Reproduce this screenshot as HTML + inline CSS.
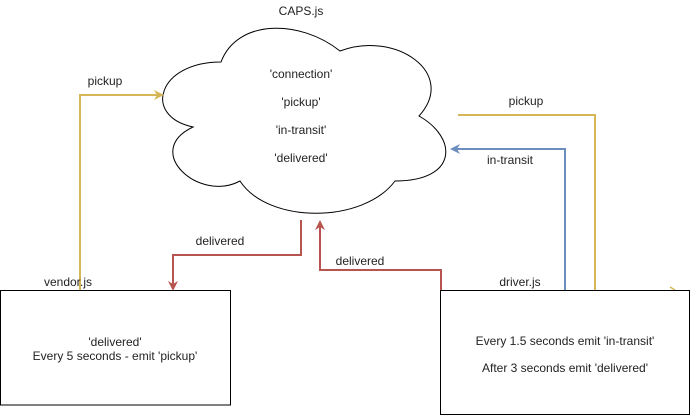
<!DOCTYPE html>
<html><head><style>
html,body{margin:0;padding:0;background:#fff;}
svg{display:block;}
text{font-family:"Liberation Sans",Arial,sans-serif;font-size:12px;fill:#222;}
</style></head><body>
<svg width="691" height="416" viewBox="0 0 691 416">
<defs>
<marker id="ay" markerWidth="10" markerHeight="10" refX="8" refY="5" orient="auto" markerUnits="userSpaceOnUse"><path d="M0,0 L10,5 L0,10 L3,5Z" fill="#d6b656"/></marker>
<marker id="ar" markerWidth="10" markerHeight="10" refX="8" refY="5" orient="auto" markerUnits="userSpaceOnUse"><path d="M0,0 L10,5 L0,10 L3,5Z" fill="#b85450"/></marker>
<marker id="ab" markerWidth="10" markerHeight="10" refX="8" refY="5" orient="auto" markerUnits="userSpaceOnUse"><path d="M0,0 L10,5 L0,10 L3,5Z" fill="#6c8ebf"/></marker>
</defs>
<!-- cloud -->
<path d="M221,62 C158,62 142,116 193,127 C142,151 199,203 240,181 C268,224 363,224 395,181 C458,181 458,138 419,116 C458,73 395,30 340,51 C300,19 237,19 221,62 Z" fill="#fff" stroke="#000" stroke-width="1"/>
<text x="301" y="15" text-anchor="middle">CAPS.js</text>
<text x="301" y="78" text-anchor="middle">'connection'</text>
<text x="301" y="106" text-anchor="middle">'pickup'</text>
<text x="301" y="134" text-anchor="middle">'in-transit'</text>
<text x="301" y="162" text-anchor="middle">'delivered'</text>

<!-- connectors -->
<polyline points="80,290 80,95 162,95" fill="none" stroke="#d6b656" stroke-width="2" marker-end="url(#ay)"/>
<text x="105" y="85" text-anchor="middle">pickup</text>

<polyline points="301,220 301,255 173,255 173,289" fill="none" stroke="#b85450" stroke-width="2" marker-end="url(#ar)"/>
<text x="220" y="245" text-anchor="middle">delivered</text>

<polyline points="441,290 441,270 320,270 320,222" fill="none" stroke="#b85450" stroke-width="2" marker-end="url(#ar)"/>
<text x="360" y="265" text-anchor="middle">delivered</text>

<polyline points="458,115 595,115 595,290" fill="none" stroke="#d6b656" stroke-width="2"/>
<text x="526" y="105" text-anchor="middle">pickup</text>

<polyline points="565,290 565,149 452,149" fill="none" stroke="#6c8ebf" stroke-width="2" marker-end="url(#ab)"/>
<text x="510" y="164" text-anchor="middle">in-transit</text>

<path d="M670,287 L675,290" stroke="#d6b656" stroke-width="1.5"/>

<!-- boxes -->
<rect x="0.5" y="290.5" width="230" height="114.5" fill="#fff" stroke="#000"/>
<text x="68" y="286" text-anchor="middle">vendor.js</text>
<text x="115" y="346" text-anchor="middle">'delivered'</text>
<text x="115" y="360" text-anchor="middle">Every 5 seconds - emit 'pickup'</text>

<rect x="440.5" y="290.5" width="249" height="124" fill="#fff" stroke="#000"/>
<text x="520" y="286" text-anchor="middle">driver.js</text>
<text x="565" y="345" text-anchor="middle">Every 1.5 seconds emit 'in-transit'</text>
<text x="565" y="372" text-anchor="middle">After 3 seconds emit 'delivered'</text>
</svg>
</body></html>
